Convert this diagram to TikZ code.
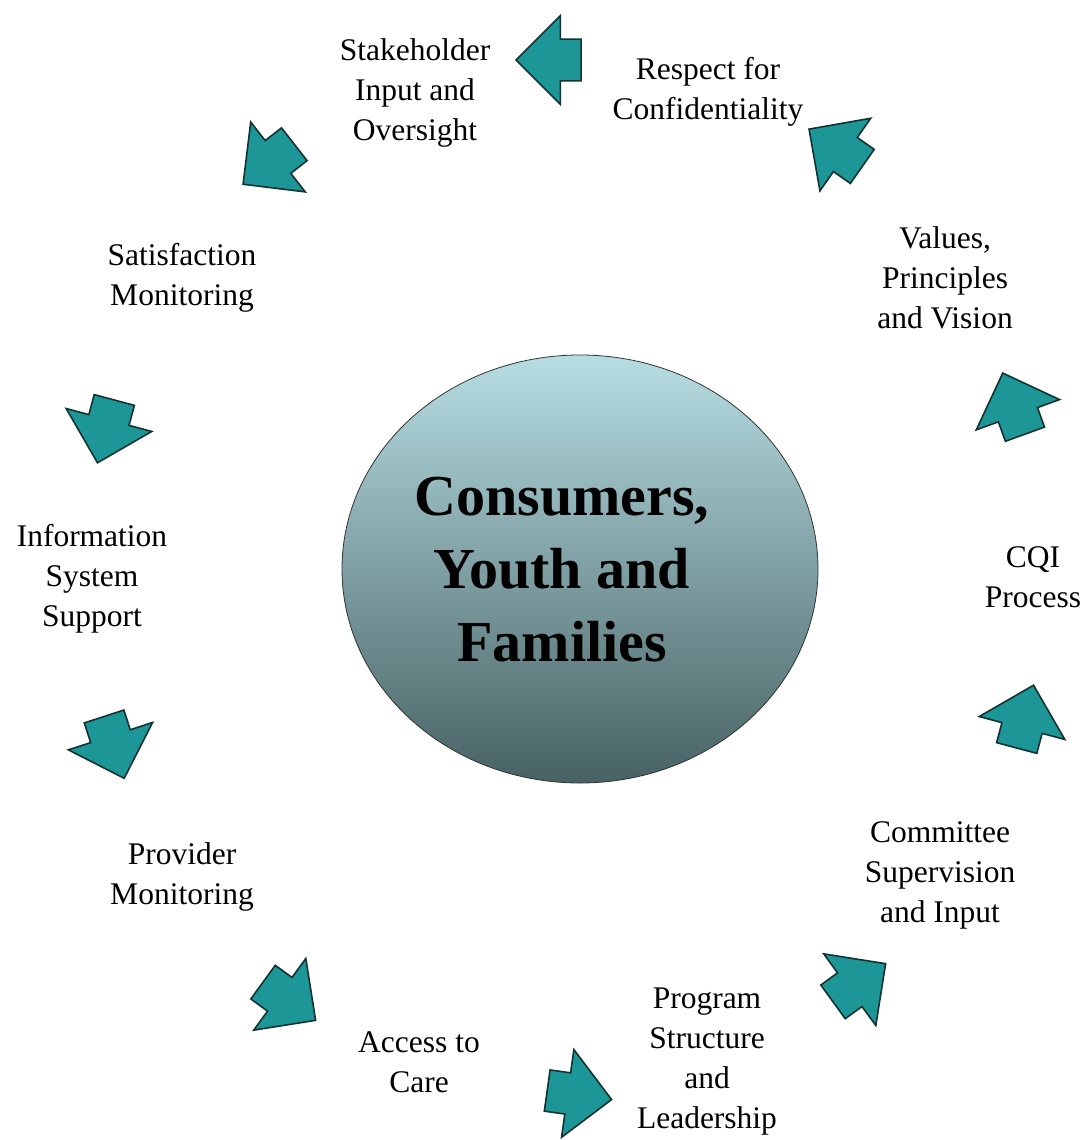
\documentclass[tikz,border=0pt]{standalone}
\usepackage{fontspec}
\setmainfont{Liberation Serif}
\usetikzlibrary{positioning, shapes.geometric, shapes.arrows}
\definecolor{flowteal}{RGB}{28,150,150}
\definecolor{flowedge}{RGB}{20,50,50}
\definecolor{hubtop}{RGB}{182,221,226}
\definecolor{hubbot}{RGB}{72,98,100}

\begin{document}
\begin{tikzpicture}[x=1pt, y=-1pt,
       flow/.style={single arrow, draw=flowedge, line width=1.6pt, fill=flowteal,
                    minimum height=65pt, minimum width=87pt, inner xsep=0pt, inner ysep=20pt,
                    single arrow head extend=23.5pt, single arrow tip angle=90},
       lbl/.style={align=center, font=\fontsize{31.5}{40}\selectfont},
       hubtxt/.style={align=center, font=\fontsize{58}{73}\selectfont\bfseries}]
     \useasboundingbox (0,0) rectangle (1090,1140);
     % centre ellipse
     \node[ellipse, draw=black!80, line width=0.8pt, top color=hubtop, bottom color=hubbot,
           minimum width=476pt, minimum height=428pt] (hub) at (580,569) {};
     \node[hubtxt] (hubtext) at (562,570) {Consumers,\\Youth and\\Families};
     % labels round the cycle
     \node[lbl] (stake) at (415,93) {Stakeholder\\Input and\\Oversight};
     \node[lbl] (respect) at (708,92) {Respect for\\Confidentiality};
     \node[lbl] (values) at (945,278) {Values,\\Principles\\and Vision};
     \node[lbl] (cqi) at (1033,577) {CQI\\Process};
     \node[lbl] (committee) at (940,875) {Committee\\Supervision\\and Input};
     \node[lbl] (program) at (707,1062) {Program\\Structure\\and\\Leadership};
     \node[lbl] (access) at (419,1062) {Access to\\Care};
     \node[lbl] (provider) at (182,877) {Provider\\Monitoring};
     \node[lbl] (info) at (92,579) {Information\\System\\Support};
     \node[lbl] (satis) at (182,278) {Satisfaction\\Monitoring};
     % block arrows, centre anchor sits towards the tip
     \node[flow, rotate=180, xshift=-10pt] (a1) at (549,60) {};
     \node[flow, rotate=218, xshift=-10pt] (a2) at (269,164) {};
     \node[flow, rotate=145, xshift=-10pt] (a3) at (836,148) {};
     \node[flow, rotate=110, xshift=-10pt] (a4) at (1014,404) {};
     \node[flow, rotate=255, xshift=-10pt] (a5) at (106,431) {};
     \node[flow, rotate=288, xshift=-10pt] (a6) at (114,747) {};
     \node[flow, rotate=324, xshift=-10pt] (a7) at (289,1001) {};
     \node[flow, rotate=352, xshift=-10pt] (a8) at (579,1095) {};
     \node[flow, rotate=36, xshift=-10pt] (a9) at (859,983) {};
     \node[flow, rotate=75, xshift=-10pt] (a10) at (1025,717) {};
   \end{tikzpicture}
\end{document}
